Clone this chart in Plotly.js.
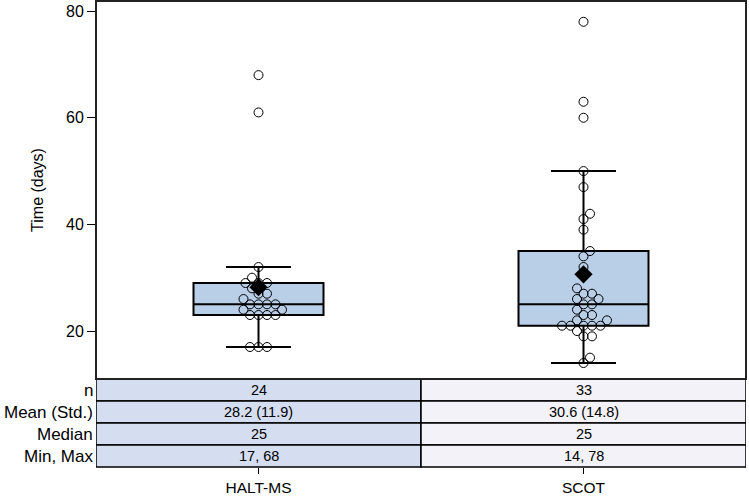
<!DOCTYPE html>
<html>
<head>
<meta charset="utf-8">
<script src="https://cdn.plot.ly/plotly-3.0.1.min.js"></script>
<style>html,body{margin:0;padding:0;background:#fff;}#chart{width:749px;height:496px;}</style>
</head>
<body>
<div id="chart"></div>
<script>
// ---- data ----
const categories = ["HALT-MS", "SCOT"];
const haltValues = [17,17,17,23,23,23,23,24,24,25,25,25,25,26,27,27,28,29,29,29,30,32,61,68];
const scotValues = [14,15,19,19,20,21,21,21,21,21,22,22,23,23,24,25,25,26,26,27,27,28,32,34,35,39,41,42,47,50,60,63,78];
const rowLabels = ["n", "Mean (Std.)", "Median", "Min, Max"];
const haltStats = ["24", "28.2 (11.9)", "25", "17, 68"];
const scotStats = ["33", "30.6 (14.8)", "25", "14, 78"];
const yTickVals = [20, 40, 60, 80];

// ---- layout constants ----
const W = 749, H = 496;
const M = {l: 96, r: 3, t: 1, b: 29};
const plotH = H - M.t - M.b;          // 466
const tableH = 88;
const yDomLow = tableH / plotH;
const yRange = [11, 81.9];
const xRange = [-0.5, 1.5];
const pxPerX = (W - M.l - M.r) / (xRange[1] - xRange[0]);
const pxPerY = (plotH - tableH) / (yRange[1] - yRange[0]);

const FONT = "Liberation Sans, Arial, sans-serif";
const boxFill = "rgb(185,207,232)";
const leftCell = "rgb(213,222,240)";
const rightCell = "rgb(242,242,248)";

// beeswarm offsets computed from the values
function swarm(vals, cx) {
  const sorted = [...vals].sort((a, b) => a - b);
  const placed = [];
  const D = 8.2;
  const xs = [], ys = [];
  for (const v of sorted) {
    const py = v * pxPerY;
    let chosen = 0;
    for (let k = 0; k < 400; k++) {
      const cands = k === 0 ? [0] : [k * 0.5, -k * 0.5];
      let ok = null;
      for (const c of cands) {
        if (placed.every(p => (p[0] - c) ** 2 + (p[1] - py) ** 2 >= D * D)) { ok = c; break; }
      }
      if (ok !== null) { chosen = ok; break; }
    }
    placed.push([chosen, py]);
    xs.push(cx + chosen / pxPerX);
    ys.push(v);
  }
  return {xs, ys};
}
const mean = a => a.reduce((s, v) => s + v, 0) / a.length;

const groups = [haltValues, scotValues];
const traces = [];
groups.forEach((vals, i) => {
  traces.push({
    type: "box", x: vals.map(() => i), y: vals, width: 0.4, quartilemethod: "inclusive",
    boxpoints: "outliers", marker: {size: 0.1, color: "rgba(0,0,0,0)", line: {width: 0}},
    fillcolor: boxFill, line: {color: "#000", width: 2}, whiskerwidth: 0.5,
    showlegend: false, hoverinfo: "skip"
  });
});
groups.forEach((vals, i) => {
  const s = swarm(vals, i);
  traces.push({
    type: "scatter", mode: "markers", x: s.xs, y: s.ys, showlegend: false,
    marker: {symbol: "circle-open", size: 9, color: "#000", line: {width: 1, color: "#000"}},
    hoverinfo: "skip"
  });
});
traces.push({
  type: "scatter", mode: "markers", x: [0, 1], y: groups.map(mean), showlegend: false,
  marker: {symbol: "diamond", size: 14, color: "#000"}, hoverinfo: "skip"
});

// table shapes and texts
const shapes = [];
const annotations = [];
const rowH = tableH / rowLabels.length;
const statCols = [haltStats, scotStats];
const cellFills = [leftCell, rightCell];
rowLabels.forEach((lab, r) => {
  const y1 = (tableH - r * rowH) / plotH;
  const y0 = (tableH - (r + 1) * rowH) / plotH;
  statCols.forEach((col, c) => {
    shapes.push({type: "rect", xref: "x", yref: "paper", x0: c - 0.5, x1: c + 0.5, y0, y1,
      fillcolor: cellFills[c], line: {color: "#000", width: 1.5}, layer: "below"});
    annotations.push({xref: "x", yref: "paper", x: c, y: (y0 + y1) / 2, text: col[r],
      showarrow: false, xanchor: "center", yanchor: "middle", font: {family: FONT, size: 14.5, color: "#000"}});
  });
  annotations.push({xref: "paper", yref: "paper", x: 0, xshift: -1, y: (y0 + y1) / 2, text: lab,
    showarrow: false, xanchor: "right", yanchor: "middle", font: {family: FONT, size: 17, color: "#000"}});
});
// plot frame
shapes.push({type: "rect", xref: "paper", yref: "paper", x0: 0, x1: 1, y0: yDomLow, y1: 1,
  line: {color: "#222", width: 2}, fillcolor: "rgba(0,0,0,0)"});

const layout = {
  width: W, height: H, margin: M, paper_bgcolor: "#fff", plot_bgcolor: "#fff",
  font: {family: FONT, size: 15, color: "#000"},
  xaxis: {range: xRange, tickvals: [0, 1], ticktext: categories, anchor: "free", position: 0,
    showgrid: false, zeroline: false, showline: false, ticks: "outside", ticklen: 6, tickwidth: 1,
    tickcolor: "#000", tickfont: {family: FONT, size: 15.5}, ticklabelstandoff: 0},
  yaxis: {domain: [yDomLow, 1], range: yRange, tickvals: yTickVals, showgrid: false, zeroline: false,
    showline: false, ticks: "outside", ticklen: 8, tickwidth: 1, tickcolor: "#000",
    tickfont: {family: FONT, size: 16},
    title: {text: "Time (days)", font: {family: FONT, size: 16}, standoff: 18}},
  shapes, annotations, showlegend: false
};
Plotly.newPlot("chart", traces, layout, {staticPlot: true, displayModeBar: false});
</script>
</body>
</html>
